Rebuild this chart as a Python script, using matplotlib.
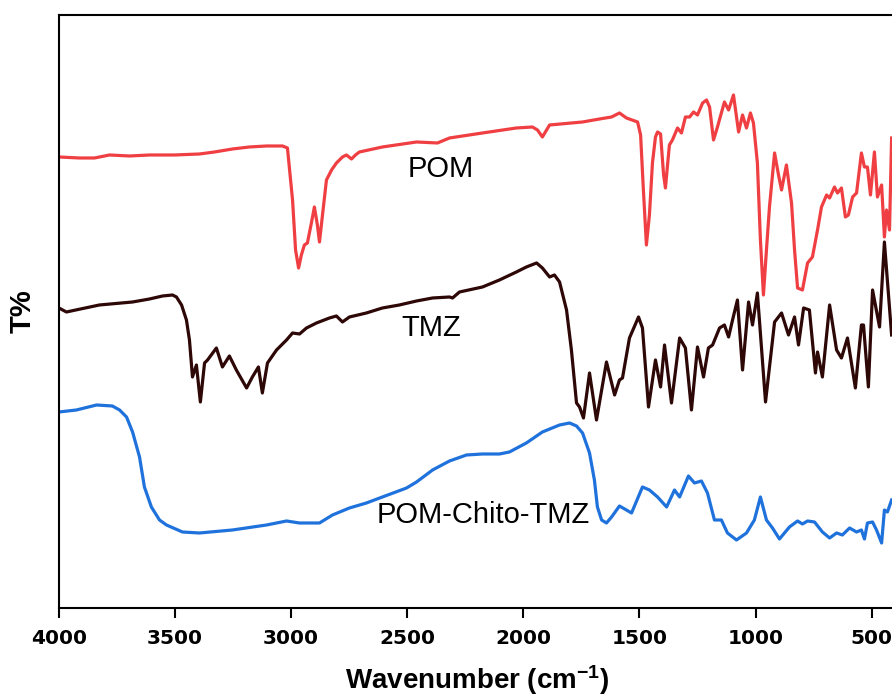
import numpy as np
import matplotlib
matplotlib.use('Agg')
import matplotlib.pyplot as plt

plt.rcParams.update({'mathtext.fontset': 'custom',
                     'mathtext.rm': 'Liberation Sans:bold',
                     'mathtext.bf': 'Liberation Sans:bold',
                     'mathtext.default': 'bf'})

RED = '#EF3F42'; DARK = '#2E0707'; BLUE = '#1F72DC'

# POM spectrum (wavenumber cm-1, T% a.u.)
pom_w = [4000, 3912, 3847, 3782, 3696, 3610, 3503, 3395, 3330, 3253, 3180, 3106, 3037, 3016,
         2994, 2981, 2968, 2956, 2943, 2930, 2912, 2900, 2887, 2878, 2865, 2848, 2826, 2805,
         2779, 2762, 2740, 2723, 2706, 2607, 2460, 2370, 2318, 2176, 2030, 1961, 1939, 1918,
         1900, 1887, 1745, 1672, 1620, 1586, 1556, 1508, 1495, 1483, 1470, 1457, 1444, 1431,
         1422, 1409, 1396, 1388, 1379, 1371, 1358, 1336, 1319, 1302, 1284, 1267, 1250, 1228,
         1211, 1198, 1181, 1164, 1134, 1116, 1095, 1073, 1056, 1039, 1022, 1009, 992, 979,
         966, 953, 940, 918, 901, 888, 867, 845, 832, 819, 798, 776, 755, 733, 716, 694, 681,
         660, 647, 630, 613, 600, 582, 565, 544, 531, 518, 505, 488, 475, 457, 445, 436, 423, 414]
pom_t = [45.1, 45.0, 45.0, 45.3, 45.2, 45.3, 45.3, 45.4, 45.6, 45.9, 46.1, 46.2, 46.2, 46.0,
         40.8, 35.8, 34.0, 35.3, 36.3, 36.5, 38.6, 40.1, 38.3, 36.6, 39.3, 42.8, 43.8, 44.5,
         45.1, 45.3, 44.9, 45.3, 45.6, 46.1, 46.6, 46.5, 47.0, 47.5, 48.0, 48.1, 47.8, 47.1,
         47.8, 48.3, 48.6, 48.9, 49.1, 49.5, 49.0, 48.6, 47.3, 41.8, 36.3, 39.3, 44.5, 47.1,
         47.6, 47.4, 43.3, 42.0, 44.3, 46.3, 46.8, 48.0, 47.5, 49.1, 49.1, 49.6, 49.3, 50.5,
         50.8, 50.1, 46.8, 48.1, 50.6, 49.8, 51.3, 47.6, 49.3, 48.0, 49.5, 48.5, 44.5, 36.8,
         31.3, 35.8, 40.1, 45.5, 43.3, 41.8, 44.3, 40.5, 35.8, 32.0, 31.8, 34.5, 35.1, 37.8,
         40.1, 41.3, 41.0, 42.1, 41.5, 42.0, 39.1, 39.3, 41.1, 41.5, 45.5, 44.1, 44.1, 41.3,
         45.6, 41.1, 42.3, 37.1, 39.8, 37.8, 47.0]

# TMZ spectrum
tmz_w = [4000, 3968, 3826, 3683, 3610, 3554, 3511, 3494, 3472, 3451, 3438, 3425, 3408, 3391,
         3373, 3360, 3322, 3296, 3266, 3236, 3192, 3167, 3141, 3124, 3102, 3063, 3020, 2994,
         2964, 2934, 2891, 2835, 2805, 2779, 2749, 2676, 2607, 2534, 2460, 2391, 2318, 2305,
         2275, 2176, 2103, 2030, 1987, 1943, 1918, 1887, 1866, 1844, 1814, 1793, 1771, 1758,
         1741, 1715, 1685, 1642, 1607, 1586, 1573, 1543, 1504, 1487, 1461, 1431, 1409, 1392,
         1362, 1327, 1302, 1276, 1250, 1224, 1203, 1185, 1155, 1134, 1116, 1099, 1078, 1056,
         1030, 1013, 992, 957, 918, 888, 858, 832, 815, 793, 768, 742, 733, 712, 681, 651, 630,
         604, 570, 544, 535, 514, 496, 466, 445, 414]
tmz_t = [30.0, 29.6, 30.3, 30.6, 30.9, 31.2, 31.3, 31.1, 30.3, 28.8, 26.8, 23.1, 24.3, 20.6,
         24.5, 24.8, 26.0, 24.1, 25.2, 23.8, 22.0, 23.1, 24.1, 21.5, 24.5, 25.8, 26.8, 27.5,
         27.4, 28.0, 28.5, 29.0, 29.2, 28.6, 29.1, 29.5, 30.0, 30.3, 30.7, 31.0, 31.1, 31.0,
         31.6, 32.1, 32.8, 33.6, 34.1, 34.5, 34.0, 33.1, 33.3, 32.6, 29.8, 25.8, 20.5, 20.1,
         19.0, 23.5, 18.8, 24.6, 21.3, 22.8, 23.0, 27.0, 29.1, 28.0, 20.1, 24.8, 22.1, 26.3,
         20.5, 27.0, 26.0, 19.8, 26.1, 23.1, 26.0, 26.3, 28.0, 28.3, 27.1, 28.8, 30.8, 23.8,
         30.6, 28.3, 31.5, 20.6, 28.6, 29.5, 27.3, 29.1, 26.3, 30.0, 29.8, 23.5, 25.6, 23.1,
         30.3, 25.8, 25.0, 27.0, 22.0, 28.3, 28.3, 22.1, 31.8, 28.1, 36.6, 27.3]

# POM-Chito-TMZ spectrum
pct_w = [4000, 3925, 3838, 3770, 3739, 3709, 3683, 3653, 3632, 3602, 3567, 3537, 3468, 3395,
         3253, 3106, 3020, 2964, 2878, 2822, 2749, 2676, 2607, 2503, 2460, 2391, 2318, 2245,
         2176, 2103, 2060, 1987, 1918, 1844, 1801, 1771, 1745, 1715, 1694, 1681, 1663, 1642,
         1620, 1586, 1534, 1487, 1457, 1422, 1383, 1349, 1327, 1289, 1263, 1233, 1207, 1177,
         1147, 1121, 1082, 1039, 1005, 979, 953, 927, 897, 854, 819, 798, 776, 746, 712, 681,
         651, 626, 595, 565, 544, 531, 518, 496, 479, 457, 445, 432, 414]
pct_t = [19.6, 19.8, 20.3, 20.2, 19.8, 19.1, 17.6, 15.1, 12.1, 10.1, 8.8, 8.3, 7.6, 7.5,
         7.8, 8.3, 8.7, 8.5, 8.5, 9.3, 10.0, 10.5, 11.1, 12.0, 12.6, 13.8, 14.7, 15.3,
         15.4, 15.4, 15.6, 16.5, 17.6, 18.3, 18.5, 18.2, 17.5, 15.5, 12.8, 10.1, 8.8, 8.5,
         9.1, 10.2, 9.5, 12.1, 11.8, 11.1, 10.1, 11.8, 11.1, 13.2, 12.5, 12.7, 11.5, 8.8,
         8.8, 7.5, 6.8, 7.5, 8.8, 11.1, 8.8, 8.0, 6.9, 8.1, 8.7, 8.4, 8.7, 8.6, 7.6, 7.0,
         7.5, 7.3, 8.0, 7.6, 7.8, 6.9, 8.5, 8.6, 7.8, 6.5, 9.8, 9.6, 10.8]

xticks = [4000, 3500, 3000, 2500, 2000, 1500, 1000, 500]

fig = plt.figure(figsize=(8.92, 6.97), dpi=100)
ax = fig.add_axes([0.0661, 0.1277, 0.9371, 0.8508])

ax.plot(pom_w, pom_t, color=RED, lw=2.3)
ax.plot(tmz_w, tmz_t, color=DARK, lw=2.3)
ax.plot(pct_w, pct_t, color=BLUE, lw=2.3)

ax.text(2357, 43.9, 'POM', fontsize=21, family='Liberation Sans', ha='center', va='center')
ax.text(2396, 28.0, 'TMZ', fontsize=21, family='Liberation Sans', ha='center', va='center')
ax.text(2172, 9.3, 'POM-Chito-TMZ', fontsize=21, family='Liberation Sans', ha='center', va='center')

ax.set_xlim(4000, 400)
ax.set_ylim(0, 59.3)
ax.set_xticks(xticks)
ax.set_xticklabels([str(v) for v in xticks], fontsize=14.5, fontweight='bold', family='DejaVu Sans')
ax.set_yticks([])
ax.tick_params(axis='x', direction='out', length=7, width=1.5, pad=8)
for s in ax.spines.values():
    s.set_linewidth(1.5)
    s.set_color('black')

ax.set_xlabel(r'Wavenumber (cm$^{-1}$)', fontsize=20, fontweight='bold', family='Liberation Sans', labelpad=11)
ax.set_ylabel('T%', fontsize=21, fontweight='bold', family='Liberation Sans', labelpad=16)

fig.savefig('out.png', dpi=100)
